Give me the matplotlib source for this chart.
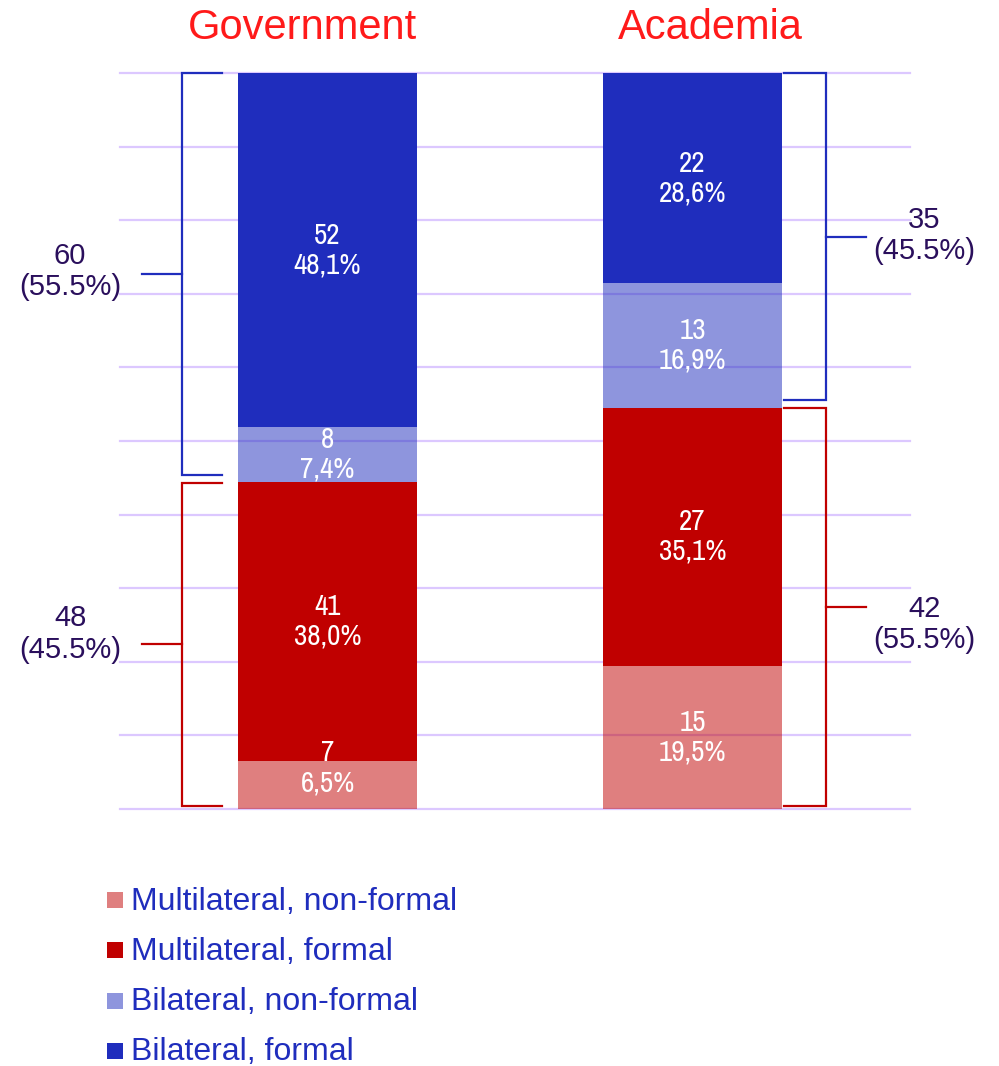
import matplotlib
matplotlib.use('Agg')
import matplotlib.pyplot as plt
from matplotlib.patches import Rectangle
from matplotlib import font_manager

# ---------------- data ----------------
groups = ['Government', 'Academia']
series_names = ['Multilateral, non-formal', 'Multilateral, formal',
                'Bilateral, non-formal', 'Bilateral, formal']
multi_nonformal = [7, 15]
multi_formal = [41, 27]
bi_nonformal = [8, 13]
bi_formal = [52, 22]
bi_totals = [60, 35]
bi_pct_text = ['55.5%', '45.5%']
multi_totals = [48, 42]
multi_pct_text = ['45.5%', '55.5%']

# ---------------- style ----------------
BLUE = '#1f2dbd'
RED = '#c00000'
series_colors = [RED, RED, BLUE, BLUE]
series_alpha = [0.5, 1.0, 0.5, 1.0]
GRID = '#dcc8ff'
LABEL_DARK = '#2a0f5c'
TITLE_RED = '#ff1a1a'

fl = font_manager.fontManager.ttflist
avail = {f.name for f in fl}
MAIN = 'Liberation Sans' if 'Liberation Sans' in avail else 'DejaVu Sans'
NARROW = MAIN
for cand in ['Liberation Sans Narrow', 'Arial Narrow', 'Archivo Narrow', 'Roboto Condensed']:
    if cand in avail:
        NARROW = cand
        break
plt.rcParams['font.family'] = [MAIN, 'DejaVu Sans']

W, H = 999, 1066
fig = plt.figure(figsize=(W / 100, H / 100), dpi=100)
ax_left, ax_right, ax_top, ax_bot = 120, 910, 73, 809
ax = fig.add_axes([ax_left / W, 1 - ax_bot / H, (ax_right - ax_left) / W, (ax_bot - ax_top) / H])

PX_PER_UNIT = 365.0
x0 = -(327.5 - ax_left) / PX_PER_UNIT
x1 = x0 + (ax_right - ax_left) / PX_PER_UNIT
ax.set_xlim(x0, x1)
ax.set_ylim(0, 100)
ax.axis('off')

# gridlines
for g in range(0, 101, 10):
    ax.axhline(g, color=GRID, lw=1.6, zorder=0, clip_on=False)

xpos = list(range(len(groups)))
bar_w = 0.49
data = [multi_nonformal, multi_formal, bi_nonformal, bi_formal]
totals = [sum(v[i] for v in data) for i in range(len(groups))]

bottoms = [0.0] * len(groups)
for s, vals in enumerate(data):
    pct = [100.0 * vals[i] / totals[i] for i in range(len(groups))]
    ax.bar(xpos, pct, bottom=bottoms, width=bar_w, color=series_colors[s],
           alpha=series_alpha[s], linewidth=0, zorder=2)
    for i in range(len(groups)):
        mid = bottoms[i] + pct[i] / 2
        mid = max(mid, 5.6)
        txt = f"{vals[i]}\n{pct[i]:.1f}%".replace('.', ',')
        ax.text(xpos[i], mid, txt, ha='center', va='center', color='white',
                fontsize=21, family=[NARROW, 'DejaVu Sans'],
                linespacing=1.12, zorder=5)
    bottoms = [bottoms[i] + pct[i] for i in range(len(groups))]

# titles
title_dx = [-0.07, 0.05]
for i, g in enumerate(groups):
    ax.text(xpos[i] + title_dx[i], 106.1, g, ha='center', va='center',
            color=TITLE_RED, fontsize=30, clip_on=False)

# brackets
sides = [-1, 1]
gap_t = [0.044, 0.006]
vgap = [0.153, 0.12]
midlen = 0.11
label_x = [-0.705, 1.635]
label_dy = [[0.3, 1.4], [0.15, -2.4]]  # [bi, multi] per group (percent units)
for i in range(len(groups)):
    sd = sides[i]
    edge = xpos[i] + sd * bar_w / 2
    xt = edge + sd * gap_t[i]
    xv = edge + sd * vgap[i]
    xm = xv + sd * midlen
    boundary = 100.0 * (multi_nonformal[i] + multi_formal[i]) / totals[i]
    segs = [(100.0, boundary + 1.0, BLUE, bi_totals[i], bi_pct_text[i], label_dy[i][0]),
            (boundary - 0.1, 0.4, RED, multi_totals[i], multi_pct_text[i], label_dy[i][1])]
    for top, bot, col, tot, ptxt, dy in segs:
        ax.plot([xt, xv, xv, xt], [top, top, bot, bot], color=col, lw=1.6,
                clip_on=False, zorder=3, solid_joinstyle='miter')
        ym = (top + bot) / 2
        ax.plot([xv, xm], [ym, ym], color=col, lw=1.6, clip_on=False, zorder=3)
        ax.text(label_x[i], ym + dy, f"{tot}\n({ptxt})", ha='center', va='center',
                color=LABEL_DARK, fontsize=21, linespacing=1.15, clip_on=False)

# legend (manual)
leg_rows_y = [900, 950, 1001, 1051]
for k, s in enumerate(series_names):
    yc = leg_rows_y[k]
    fig.patches.append(Rectangle((107 / W, 1 - (yc + 8) / H), 16 / W, 16 / H,
                                 transform=fig.transFigure, facecolor=series_colors[k],
                                 alpha=series_alpha[k], edgecolor='none'))
    fig.text(131 / W, 1 - (yc + 9.5) / H, s, ha='left', va='baseline',
             color=BLUE, fontsize=23)

fig.savefig('out.png', dpi=100)
